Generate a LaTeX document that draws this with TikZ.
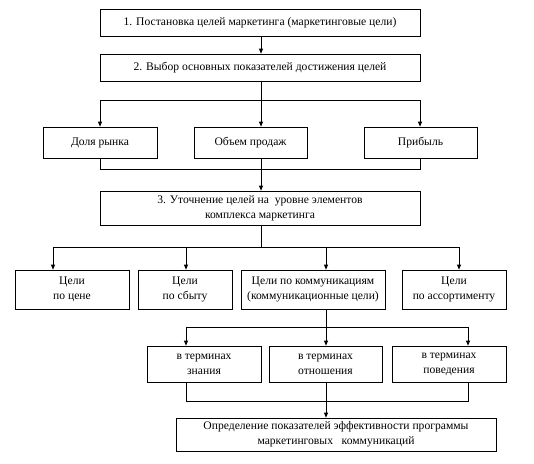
\documentclass[tikz,border=0pt]{standalone}
\usepackage{fontspec}
\setmainfont{Liberation Serif}
\usetikzlibrary{arrows.meta}
\begin{document}
\begin{tikzpicture}[x=1pt,y=-1pt,
  box/.style={draw, line width=0.7pt, inner sep=1pt, align=center, font=\fontsize{11.6}{15}\selectfont},
  ln/.style={line width=0.7pt},
  arr/.style={line width=0.7pt, -{Triangle[length=5pt,width=4pt]}}]
\useasboundingbox (0,0) rectangle (534,463);
\node[box, minimum width=320pt, minimum height=27pt] (b1) at (260,22.5) {1. Постановка целей маркетинга (маркетинговые цели)};
\node[box, minimum width=320pt, minimum height=27pt] (b2) at (260,67.5) {2. Выбор основных показателей достижения целей};
\node[box, minimum width=114pt, minimum height=31pt] (p1) at (100,142.5) {Доля рынка};
\node[box, minimum width=113pt, minimum height=31pt] (p2) at (250.5,142.5) {Объем продаж};
\node[box, minimum width=113pt, minimum height=31pt] (p3) at (420.5,142.5) {Прибыль};
\node[box, minimum width=320pt, minimum height=34pt] (b3) at (260,208) {3. Уточнение целей на\ \ уровне элементов\\комплекса маркетинга};
\node[box, minimum width=114pt, minimum height=39pt] (g1) at (72,289.5) {Цели\\по цене};
\node[box, minimum width=94pt, minimum height=39pt] (g2) at (185,289.5) {Цели\\по сбыту};
\node[box, minimum width=144pt, minimum height=39pt] (g3) at (313,289.5) {Цели по коммуникациям\\(коммуникационные цели)};
\node[box, minimum width=104pt, minimum height=39pt] (g4) at (454,289.5) {Цели\\по ассортименту};
\node[box, minimum width=114pt, minimum height=36pt] (t1) at (204,364) {в терминах\\знания};
\node[box, minimum width=113pt, minimum height=36pt] (t2) at (325.5,364) {в терминах\\отношения};
\node[box, minimum width=114pt, minimum height=36pt] (t3) at (449,364) {в терминах\\поведения};
\node[box, minimum width=320pt, minimum height=33pt] (f) at (336,434.5) {Определение показателей эффективности программы\\маркетинговых\ \ \ коммуникаций};
% junction coordinates
\coordinate (j1a) at (100,100); \coordinate (j1b) at (261,100); \coordinate (j1c) at (420,100);
\coordinate (j2a) at (100,169); \coordinate (j2b) at (261,169); \coordinate (j2c) at (420,169);
\coordinate (a1) at (53,247); \coordinate (a2) at (186,247); \coordinate (a3) at (326,247); \coordinate (a4) at (459,247); \coordinate (a0) at (261,247);
\coordinate (c1) at (186,327); \coordinate (c2) at (326,327); \coordinate (c3) at (468,327);
\coordinate (d1) at (186,401); \coordinate (d2) at (326,401); \coordinate (d3) at (468,401);
% level 1-2
\draw[arr] (j1b |- b1.south) -- (j1b |- b2.north);
\draw[ln] (j1b |- b2.south) -- (j1b);
\draw[ln] (j1a) -- (j1c);
\draw[arr] (j1a) -- (j1a |- p1.north);
\draw[arr] (j1b) -- (j1b |- p2.north);
\draw[arr] (j1c) -- (j1c |- p3.north);
\draw[ln] (j2a |- p1.south) -- (j2a) -- (j2c) -- (j2c |- p3.south);
\draw[ln] (j2b |- p2.south) -- (j2b);
\draw[arr] (j2b) -- (j2b |- b3.north);
% level 3
\draw[ln] (a0 |- b3.south) -- (a0);
\draw[ln] (a1) -- (a4);
\draw[arr] (a1) -- (a1 |- g1.north);
\draw[arr] (a2) -- (a2 |- g2.north);
\draw[arr] (a3) -- (a3 |- g3.north);
\draw[arr] (a4) -- (a4 |- g4.north);
% level 4
\draw[ln] (c2 |- g3.south) -- (c2);
\draw[ln] (c1) -- (c3);
\draw[arr] (c1) -- (c1 |- t1.north);
\draw[arr] (c2) -- (c2 |- t2.north);
\draw[arr] (c3) -- (c3 |- t3.north);
\draw[ln] (d1 |- t1.south) -- (d1) -- (d3) -- (d3 |- t3.south);
\draw[ln] (d2 |- t2.south) -- (d2);
\draw[arr] (d2) -- (d2 |- f.north);
\end{tikzpicture}
\end{document}
